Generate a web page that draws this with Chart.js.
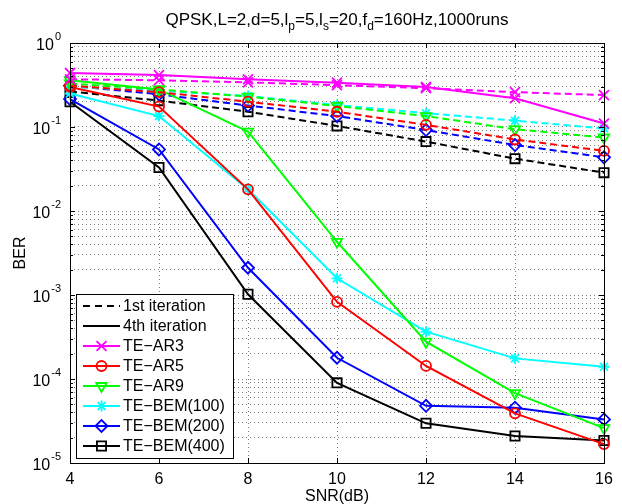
<!DOCTYPE html>
<html>
<head>
<meta charset="utf-8">
<script src="https://cdn.jsdelivr.net/npm/chart.js@4.4.0/dist/chart.umd.min.js"></script>
<style>
    body { margin: 0; background: #fff; }
    #wrap { width: 622px; height: 504px; }
</style>
</head>
<body>
<div id="wrap"><canvas id="berChart" width="622" height="504"></canvas></div>
<script>
var snr = [4, 6, 8, 10, 12, 14, 16];

var seriesNames = ['TE\u2212AR3', 'TE\u2212AR5', 'TE\u2212AR9', 'TE\u2212BEM(100)', 'TE\u2212BEM(200)', 'TE\u2212BEM(400)'];
var seriesColors = ['#ff00ff', '#ff0000', '#00ff00', '#00ffff', '#0000ff', '#000000'];
var seriesMarkers = ['crossRot', 'circle', 'triangle', 'star', 'rectRot', 'rect'];
var markerRotation = [0, 0, 180, 0, 0, 0];
var markerRadius = [7, 5, 6, 5.5, 6, 6.5];

// 1st iteration (dashed)
var ar3First = [0.37, 0.36, 0.34, 0.315, 0.29, 0.26, 0.24];
var ar5First = [0.31, 0.26, 0.20, 0.152, 0.106, 0.071, 0.052];
var ar9First = [0.33, 0.28, 0.23, 0.178, 0.135, 0.094, 0.075];
var bem100First = [0.30, 0.27, 0.234, 0.183, 0.146, 0.119, 0.096];
var bem200First = [0.31, 0.245, 0.18, 0.135, 0.092, 0.061, 0.0435];
var bem400First = [0.265, 0.206, 0.152, 0.103, 0.067, 0.042, 0.0286];

// 4th iteration (solid)
var ar3Fourth = [0.44, 0.415, 0.37, 0.337, 0.30, 0.22, 0.11];
var ar5Fourth = [0.30, 0.175, 0.0181, 8.3e-4, 1.43e-4, 3.9e-5, 1.68e-5];
var ar9Fourth = [0.36, 0.28, 0.088, 0.0043, 2.78e-4, 6.8e-5, 2.6e-5];
var bem100Fourth = [0.25, 0.135, 0.0181, 0.00158, 3.66e-4, 1.76e-4, 1.4e-4];
var bem200Fourth = [0.215, 0.054, 0.00211, 1.79e-4, 4.8e-5, 4.55e-5, 3.3e-5];
var bem400Fourth = [0.20, 0.033, 0.00102, 9.0e-5, 2.97e-5, 2.1e-5, 1.85e-5];

var firstIter = [ar3First, ar5First, ar9First, bem100First, bem200First, bem400First];
var fourthIter = [ar3Fourth, ar5Fourth, ar9Fourth, bem100Fourth, bem200Fourth, bem400Fourth];

var decades = [-5, -4, -3, -2, -1, 0];

var FONT = '"Liberation Sans", Arial, Helvetica, sans-serif';

function toPoints(vals) {
    return vals.map(function (v, i) { return { x: snr[i], y: v }; });
}

var datasets = [];
for (var i = 0; i < seriesNames.length; i++) {
    [firstIter[i], fourthIter[i]].forEach(function (vals, k) {
        datasets.push({
            label: seriesNames[i] + (k === 0 ? ' 1st' : ' 4th'),
            data: toPoints(vals),
            borderColor: seriesColors[i],
            backgroundColor: 'rgba(0,0,0,0)',
            borderWidth: 2,
            borderDash: k === 0 ? [7, 4] : [],
            pointStyle: seriesMarkers[i],
            pointRotation: markerRotation[i],
            pointRadius: markerRadius[i],
            pointBorderWidth: 1.8,
            pointBorderColor: seriesColors[i],
            pointBackgroundColor: 'rgba(0,0,0,0)',
            tension: 0,
            clip: false
        });
    });
}

// y ticks: every 1..9 x 10^k
var yTickVals = [];
for (var e = -5; e < 0; e++) {
    for (var m = 1; m <= 9; m++) yTickVals.push(m * Math.pow(10, e));
}
yTickVals.push(1);

function drawSegments(ctx, segs, cx, baseline, big, small, shift) {
    var total = 0;
    segs.forEach(function (s) {
        ctx.font = (s[1] ? small : big) + 'px ' + FONT;
        s.w = ctx.measureText(s[0]).width;
        total += s.w;
    });
    var x = cx - total / 2;
    segs.forEach(function (s) {
        ctx.font = (s[1] ? small : big) + 'px ' + FONT;
        ctx.fillText(s[0], x, baseline + (s[1] ? shift : 0));
        x += s.w;
    });
}

var matlabPlugin = {
    id: 'matlabPlugin',
    afterDraw: function (chart) {
        var ctx = chart.ctx;
        var a = chart.chartArea;
        var xs = chart.scales.x, ys = chart.scales.y;
        ctx.save();
        ctx.strokeStyle = '#000';
        ctx.fillStyle = '#000';
        ctx.lineWidth = 1;
        ctx.setLineDash([]);

        // frame
        ctx.strokeRect(Math.round(a.left) + 0.5, Math.round(a.top) + 0.5,
            Math.round(a.right - a.left), Math.round(a.bottom - a.top));

        // ticks
        ctx.beginPath();
        snr.forEach(function (v) {
            var px = Math.round(xs.getPixelForValue(v)) + 0.5;
            ctx.moveTo(px, a.bottom); ctx.lineTo(px, a.bottom - 5);
            ctx.moveTo(px, a.top); ctx.lineTo(px, a.top + 5);
        });
        yTickVals.forEach(function (v) {
            var py = Math.round(ys.getPixelForValue(v)) + 0.5;
            var major = Math.abs(Math.log10(v) - Math.round(Math.log10(v))) < 1e-9;
            var len = major ? 5 : 3;
            ctx.moveTo(a.left, py); ctx.lineTo(a.left + len, py);
            ctx.moveTo(a.right, py); ctx.lineTo(a.right - len, py);
        });
        ctx.stroke();

        // y tick labels 10^k
        ctx.textAlign = 'left';
        ctx.textBaseline = 'alphabetic';
        decades.forEach(function (d) {
            var py = ys.getPixelForValue(Math.pow(10, d));
            var ex = d === 0 ? '0' : '-' + Math.abs(d);
            ctx.font = '11px ' + FONT;
            var ew = ctx.measureText(ex).width;
            ctx.font = '16px ' + FONT;
            var bw = ctx.measureText('10').width;
            var xe = 61 - ew;
            ctx.fillText('10', xe - 1 - bw, py + 7);
            ctx.font = '11px ' + FONT;
            ctx.fillText(ex, xe, py - 3);
        });

        // title with subscripts
        drawSegments(ctx, [['QPSK,L=2,d=5,l', 0], ['p', 1], ['=5,l', 0], ['s', 1],
            ['=20,f', 0], ['d', 1], ['=160Hz,1000runs', 0]], (a.left + a.right) / 2, 25, 17, 12, 5);

        // axis labels
        ctx.font = '16px ' + FONT;
        ctx.textAlign = 'center';
        ctx.fillText('SNR(dB)', (a.left + a.right) / 2, 501);
        ctx.save();
        ctx.translate(21, (a.top + a.bottom) / 2);
        ctx.rotate(-Math.PI / 2);
        ctx.textBaseline = 'middle';
        ctx.fillText('BER', 0, 0);
        ctx.restore();

        // legend box
        var items = [
            { label: '1st iteration', color: '#000', dash: [7, 5] },
            { label: '4th iteration', color: '#000', dash: [] }
        ];
        seriesNames.forEach(function (n, j) {
            items.push({ label: n, color: seriesColors[j], dash: [], marker: j });
        });
        var bx = 76, by = 294, bw2 = 157, bh = 164;
        ctx.fillStyle = '#fff';
        ctx.fillRect(bx, by, bw2, bh);
        ctx.strokeStyle = '#000';
        ctx.lineWidth = 1;
        ctx.strokeRect(bx + 0.5, by + 0.5, bw2, bh);
        ctx.textAlign = 'left';
        ctx.textBaseline = 'middle';
        ctx.font = '16px ' + FONT;
        items.forEach(function (it, r) {
            var cy = by + 12 + r * 20;
            ctx.strokeStyle = it.color;
            ctx.lineWidth = 2;
            ctx.setLineDash(it.dash);
            ctx.beginPath();
            ctx.moveTo(83, cy); ctx.lineTo(120, cy);
            ctx.stroke();
            ctx.setLineDash([]);
            if (it.marker !== undefined && Chart.helpers && Chart.helpers.drawPoint) {
                var j = it.marker;
                ctx.fillStyle = 'rgba(0,0,0,0)';
                ctx.lineWidth = 1.8;
                Chart.helpers.drawPoint(ctx, {
                    pointStyle: seriesMarkers[j],
                    rotation: markerRotation[j],
                    radius: markerRadius[j],
                    borderWidth: 1.8
                }, 101.5, cy);
            }
            ctx.fillStyle = '#000';
            ctx.fillText(it.label, 123, cy + 1);
        });
        ctx.restore();
    }
};

Chart.defaults.font.family = FONT;
Chart.defaults.font.size = 16;
Chart.defaults.color = '#000';

var ctx = document.getElementById('berChart').getContext('2d');
var berChart = new Chart(ctx, {
    type: 'line',
    data: { datasets: datasets },
    options: {
        responsive: false,
        animation: false,
        layout: { padding: { top: 43, right: 18, left: 0, bottom: 0 } },
        scales: {
            x: {
                type: 'linear',
                min: 4,
                max: 16,
                afterFit: function (s) { s.height = 41; },
                ticks: { stepSize: 2, padding: 7, color: '#000', font: { size: 16 } },
                grid: { color: 'rgba(0,0,0,0.5)', lineWidth: 1, drawTicks: false },
                border: { display: false, dash: [1, 3] }
            },
            y: {
                type: 'logarithmic',
                min: 1e-5,
                max: 1,
                afterFit: function (s) { s.width = 70; },
                afterBuildTicks: function (s) {
                    s.ticks = yTickVals.map(function (v) { return { value: v }; });
                },
                ticks: { display: false },
                grid: { color: 'rgba(0,0,0,0.5)', lineWidth: 1, drawTicks: false },
                border: { display: false, dash: [1, 3] }
            }
        },
        plugins: {
            legend: { display: false },
            title: { display: false },
            tooltip: { enabled: false }
        }
    },
    plugins: [matlabPlugin]
});
</script>
</body>
</html>
